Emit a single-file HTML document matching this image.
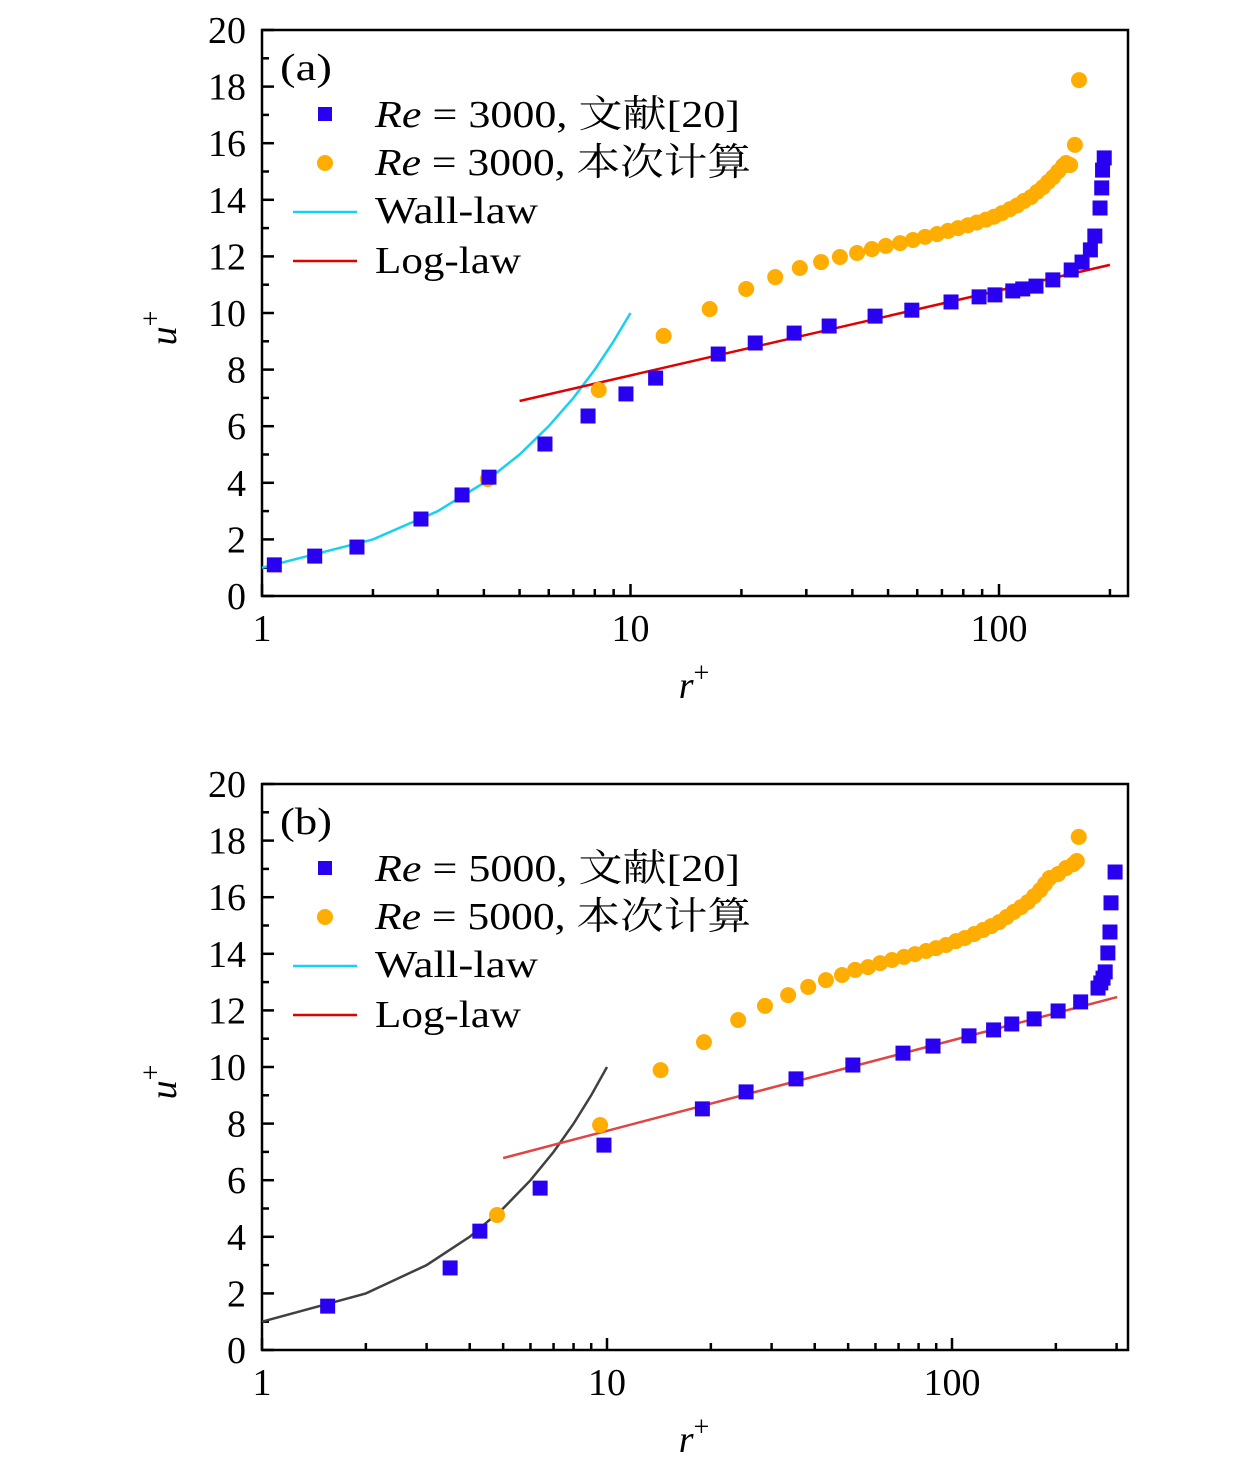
<!DOCTYPE html>
<html><head><meta charset="utf-8">
<style>
html,body{margin:0;padding:0;background:#fff;}
svg{display:block;font-family:"Liberation Serif","Noto Serif CJK SC",serif;}
</style></head>
<body>
<svg id="chart" width="1260" height="1472" viewBox="0 0 1260 1472" xmlns="http://www.w3.org/2000/svg"></svg>
<script>
// ---- Panel (a) data ----
const aRefR = [1.08,1.39,1.81,2.70,3.49,4.13,5.86,7.67,9.72,11.7,17.3,21.8,27.8,34.6,46.1,58.0,74.1,88.3,97.5,109,116,126,140,157,168,177,182,188,190,191,193];
const aRefU = [1.10,1.41,1.73,2.72,3.57,4.2,5.37,6.36,7.14,7.70,8.55,8.94,9.29,9.54,9.89,10.1,10.39,10.57,10.64,10.78,10.85,10.95,11.17,11.52,11.8,12.23,12.72,13.71,14.42,15.05,15.48];
const aCalcR = [4.1,8.2,12.3,16.4,20.6,24.7,28.8,32.9,37.0,41.2,45.2,49.3,53.9,58.4,63.0,67.9,72.7,77.4,82.4,87.1,92.2,96.9,101.8,107.1,111.9,116.9,122.2,126.8,131.6,135.8,140.2,144.6,149.2,152,156,160.7,164.9];
const aCalcU = [4.13,7.28,9.19,10.14,10.85,11.27,11.59,11.8,11.98,12.12,12.26,12.37,12.47,12.58,12.69,12.79,12.9,13.0,13.1,13.2,13.3,13.4,13.53,13.67,13.8,13.96,14.1,14.28,14.45,14.63,14.8,15.0,15.2,15.3,15.23,15.94,18.23];
const aWallR = [1,2,3,4,5,6,7,8,9,10];
const aWallU = [1,2,3,4,5,6,7,8,9,10];
const aLogR = [5,200];
const aLogU = [6.89,11.7];
// ---- Panel (b) data ----
const bRefR = [1.55,3.51,4.28,6.4,9.8,18.9,25.3,35.3,51.6,72.1,88.1,112,132,149,173,203,236,265,270,274,278,283,287,289,297];
const bRefU = [1.55,2.9,4.2,5.72,7.24,8.52,9.12,9.58,10.07,10.49,10.74,11.1,11.31,11.52,11.7,11.98,12.3,12.79,12.97,13.14,13.36,14.03,14.77,15.8,16.89];
const bCalcR = [4.8,9.55,14.3,19.1,24.0,28.7,33.5,38.3,43.1,48.0,52.4,57.1,61.9,67.0,72.6,78.1,84.1,89.9,96.1,102.7,109,116,123,130,137,144,151,158.5,166,173,180,186,192,203,214,225,230,233];
const bCalcU = [4.77,7.95,9.89,10.88,11.66,12.16,12.54,12.83,13.07,13.25,13.43,13.53,13.67,13.78,13.89,13.99,14.1,14.2,14.31,14.45,14.56,14.7,14.84,14.98,15.12,15.3,15.48,15.65,15.83,16.04,16.25,16.47,16.68,16.82,17.03,17.17,17.28,18.13];
const bWallR = [1,2,3,4,5,6,7,8,9,10];
const bWallU = [1,2,3,4,5,6,7,8,9,10];
const bLogR = [5,301];
const bLogU = [6.78,12.47];
const yTicks = [0,2,4,6,8,10,12,14,16,18,20];
const xTicks = [1,10,100];
const xTickLabels = ["1","10","100"];

const NS = "http://www.w3.org/2000/svg";
const svg = document.getElementById('chart');
function mk(tag, attrs, parent){
  const e = document.createElementNS(NS, tag);
  for (const k in attrs) e.setAttribute(k, attrs[k]);
  (parent||svg).appendChild(e);
  return e;
}

function panel(o){
  const g = mk('g', {});
  
  
  const L=262, R=1128, T=o.top, B=o.top+566;
  const xs = r => L + Math.log10(r) * o.dec;
  const ys = u => B - u * (B-T)/20;
  const frame = mk('rect', {x:L, y:T, width:R-L, height:B-T, fill:'none', stroke:'#000', 'stroke-width':2.5}, g);
  
  
  for (let v=0; v<=20; v++){
    const major = v%2===0;
    const t = mk('line', {x1:L, x2:L+(major?12:7), y1:ys(v), y2:ys(v), stroke:'#000','stroke-width':2.5}, g);
    
    
  }
  yTicks.forEach(v=>{
    const t = mk('text', {x:246, y:ys(v)+13, 'text-anchor':'end','font-size':38}, g);
    t.textContent = v;
    
    
  });
  for (let d=0; d<3; d++){
    for (let m=1; m<10; m++){
      const r = m*Math.pow(10,d);
      const x = xs(r);
      if (x > R) break;
      const t = mk('line', {x1:x, x2:x, y1:B, y2:B-(m===1?12:7), stroke:'#000','stroke-width':2.5}, g);
      
      
    }
  }
  xTicks.forEach((v,i)=>{
    const t = mk('text', {x:xs(v), y:B+45, 'text-anchor':'middle','font-size':38}, g);
    t.textContent = xTickLabels[i];
    
    
  });
  const xt = mk('text', {x:694, y:B+102, 'text-anchor':'middle','font-size':38,'font-style':'italic'}, g);
  xt.innerHTML = 'r<tspan dy="-16" font-size="28" font-style="normal">+</tspan>';
  
  
  const yt = mk('text', {x:0, y:0, 'text-anchor':'middle','font-size':38,'font-style':'italic', transform:`translate(176,${T+298}) rotate(-90)`}, g);
  yt.innerHTML = 'u<tspan dy="-16" font-size="28" font-style="normal">+</tspan>';
  
  
  const path = (R_, U_) => R_.map((r,i)=>(i?'L':'M')+xs(r).toFixed(1)+','+ys(U_[i]).toFixed(1)).join(' ');
  const wl = mk('path', {d:path(o.wallR,o.wallU), fill:'none', stroke:o.wallColor,'stroke-width':2.5}, g);
  
  
  const ll = mk('path', {d:path(o.logR,o.logU), fill:'none', stroke:o.logColor,'stroke-width':2.5}, g);
  
  
  o.calcR.forEach((r,i)=>{
    const c = mk('circle', {cx:xs(r), cy:ys(o.calcU[i]), r:8, fill:'#ffad00'}, g);
    
    
  });
  o.refR.forEach((r,i)=>{
    const s = mk('rect', {x:xs(r)-7.5, y:ys(o.refU[i])-7.5, width:15, height:15, fill:'#2a00f0'}, g);
    
    
  });
  const pl = mk('text', {x:280, y:T+50, 'font-size':38, textLength:52, lengthAdjust:'spacingAndGlyphs'}, g);
  pl.textContent = '(' + o.tag + ')';
  
  
  const lg = mk('g', {}, g);
  
  
  const m1 = mk('rect', {x:318, y:T+77, width:14, height:14, fill:'#2a00f0'}, lg);
  
  
  const t1 = mk('text', {x:375, y:T+97, 'font-size':38, textLength:365, lengthAdjust:'spacingAndGlyphs'}, lg);
  t1.innerHTML = '<tspan font-style="italic">Re</tspan> = '+o.re+', 文献[20]';
  
  
  const m2 = mk('circle', {cx:325, cy:T+133, r:8, fill:'#ffad00'}, lg);
  
  
  const t2 = mk('text', {x:375, y:T+145, 'font-size':38, textLength:376, lengthAdjust:'spacingAndGlyphs'}, lg);
  t2.innerHTML = '<tspan font-style="italic">Re</tspan> = '+o.re+', 本次计算';
  
  
  const m3 = mk('line', {x1:293, x2:357, y1:T+182, y2:T+182, stroke:o.legendWall,'stroke-width':2.5}, lg);
  
  
  const t3 = mk('text', {x:375, y:T+193, 'font-size':38, textLength:163, lengthAdjust:'spacingAndGlyphs'}, lg);
  t3.textContent = 'Wall-law';
  
  
  const m4 = mk('line', {x1:293, x2:357, y1:T+231, y2:T+231, stroke:o.legendLog,'stroke-width':2.5}, lg);
  
  
  const t4 = mk('text', {x:375, y:T+243, 'font-size':38, textLength:146, lengthAdjust:'spacingAndGlyphs'}, lg);
  t4.textContent = 'Log-law';
  
  
}

panel({tag:'a', top:30, dec:368.5, re:3000, refR:aRefR, refU:aRefU, calcR:aCalcR, calcU:aCalcU,
  wallR:aWallR, wallU:aWallU, logR:aLogR, logU:aLogU, wallColor:'#18d0f0', logColor:'#e00000',
  legendWall:'#18d0f0', legendLog:'#e00000'});
panel({tag:'b', top:784, dec:345, re:5000, refR:bRefR, refU:bRefU, calcR:bCalcR, calcU:bCalcU,
  wallR:bWallR, wallU:bWallU, logR:bLogR, logU:bLogU, wallColor:'#404040', logColor:'#e04444',
  legendWall:'#18d0f0', legendLog:'#e00000'});
</script>
</body></html>
